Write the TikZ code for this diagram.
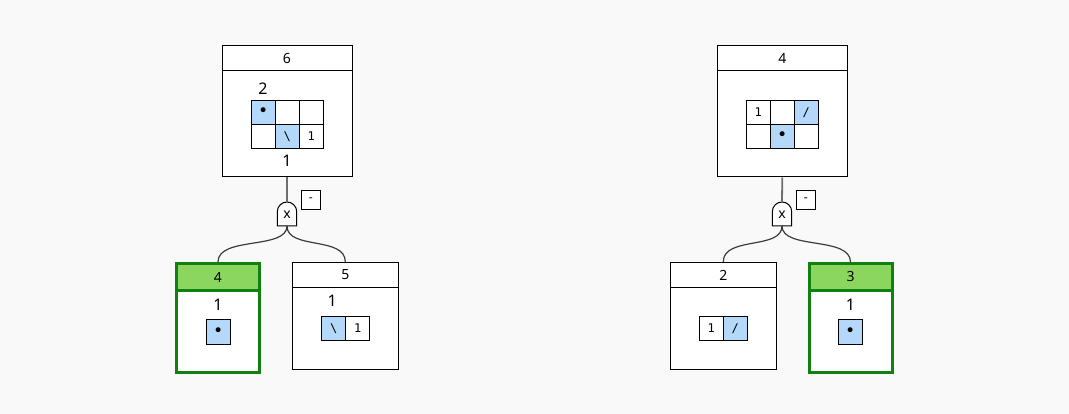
\documentclass[tikz,border=0pt]{standalone}
\usepackage{fontspec}
\setmainfont{Noto Sans}
\newfontfamily\cellfont{DejaVu Sans Mono}
\definecolor{bg}{RGB}{249,249,249}
\definecolor{cellblue}{RGB}{180,216,250}
\definecolor{hdrgreen}{RGB}{139,214,94}
\definecolor{bordgreen}{RGB}{16,128,16}
\definecolor{wire}{RGB}{60,60,60}
\definecolor{stem}{RGB}{110,110,110}
\newcommand{\dotglyph}{{\fontsize{17}{17}\selectfont •}}
\tikzset{
  x=1pt, y=-1pt,
  treebox/.style={draw=black, line width=1pt, fill=white, inner sep=0pt},
  goalbox/.style={draw=bordgreen, line width=3pt, fill=white, inner sep=0pt},
  hdr/.style={font=\fontsize{14}{16}\selectfont, inner sep=0pt},
  big/.style={font=\fontsize{16}{18}\selectfont, inner sep=0pt},
  cell/.style={draw=black, line width=1pt, minimum width=24pt, minimum height=24pt, inner sep=0pt, font=\cellfont\fontsize{12}{13}\selectfont},
  bcell/.style={cell, fill=cellblue},
  gatelbl/.style={font=\fontsize{14}{16}\selectfont, inner sep=0pt},
  tagbox/.style={draw=black, line width=1pt, fill=white, minimum width=19pt, minimum height=18.6pt, inner sep=0pt, font=\fontsize{12}{14}\selectfont},
  wireline/.style={draw=wire, line width=1.2pt},
  stemline/.style={draw=stem, line width=1.8pt},
}
\begin{document}
\begin{tikzpicture}
\fill[bg] (0,0) rectangle (1069,414);
\useasboundingbox (0,0) rectangle (1069,414);

% ================= LEFT TREE =================
\node[treebox, minimum width=130pt, minimum height=131pt] (L) at (287,111.5) {};
\draw[line width=1pt] (222,71) -- (352,71);
\node[hdr] (Lh) at (287,58.5) {6};
\node[big] (Lt) at (263,88.7) {2};
\node[big] (Lb) at (287,160.7) {1};
\node[bcell] (L00) at (263.3,112.3) {\dotglyph};
\node[cell]  (L01) at (287.3,112.3) {};
\node[cell]  (L02) at (311.3,112.3) {};
\node[cell]  (L10) at (263.3,136.3) {};
\node[bcell] (L11) at (287.3,136.3) {\textbackslash};
\node[cell]  (L12) at (311.3,136.3) {1};

% gate
\path[draw=black, line width=1pt, fill=white] (277.3,226) -- (277.3,211.7) arc[start angle=180, end angle=360, radius=9.7] -- (296.7,226) -- cycle;
\coordinate (LGt) at (287,202);
\coordinate (LGb) at (287,226);
\node[gatelbl] (LG) at (287,215) {x};
\node[tagbox] (LT) at (310.8,200) {-};
\draw[stemline] (L.south) -- (LGt);

% left child (goal)
\node[goalbox, minimum width=83pt, minimum height=109pt] (LA) at (218,318) {};
\fill[hdrgreen] (178,265) rectangle (258,289);
\draw[bordgreen, line width=3pt] (176.5,290.5) -- (259.5,290.5);
\node[hdr] (LAh) at (218,277) {4};
\node[big] (LAt) at (218,305) {1};
\node[bcell] (LA0) at (218.3,332) {\dotglyph};

% right child
\node[treebox, minimum width=106pt, minimum height=107pt] (LB) at (345.3,315.8) {};
\draw[line width=1pt] (292.3,287.3) -- (398.3,287.3);
\node[hdr] (LBh) at (345.3,275) {5};
\node[big] (LBt) at (332.3,300.3) {1};
\node[bcell] (LB0) at (333.7,328.2) {\textbackslash};
\node[cell]  (LB1) at (357.7,328.2) {1};

\draw[wireline] (LGb) .. controls (287,250) and (218,236) .. (LA.north);
\draw[wireline] (LGb) .. controls (287,250) and (345.3,236) .. (LB.north);

% ================= RIGHT TREE =================
\node[treebox, minimum width=130pt, minimum height=131pt] (R) at (782.3,111.5) {};
\draw[line width=1pt] (717.3,71) -- (847.3,71);
\node[hdr] (Rh) at (782.3,58.5) {4};
\node[cell]  (R00) at (758.3,112.3) {1};
\node[cell]  (R01) at (782.3,112.3) {};
\node[bcell] (R02) at (806.3,112.3) {/};
\node[cell]  (R10) at (758.3,136.3) {};
\node[bcell] (R11) at (782.3,136.3) {\dotglyph};
\node[cell]  (R12) at (806.3,136.3) {};

% gate
\path[draw=black, line width=1pt, fill=white] (772.3,226) -- (772.3,211.7) arc[start angle=180, end angle=360, radius=9.7] -- (791.7,226) -- cycle;
\coordinate (RGt) at (782,202);
\coordinate (RGb) at (782,226);
\node[gatelbl] (RG) at (782,215) {x};
\node[tagbox] (RT) at (805.8,200) {-};
\draw[stemline] (R.south) -- (RGt);

% left child
\node[treebox, minimum width=106pt, minimum height=107pt] (RA) at (723.3,315.8) {};
\draw[line width=1pt] (670.3,287.3) -- (776.3,287.3);
\node[hdr] (RAh) at (723.3,275) {2};
\node[cell]  (RA0) at (711.3,328.2) {1};
\node[bcell] (RA1) at (735.3,328.2) {/};

% right child (goal)
\node[goalbox, minimum width=83pt, minimum height=109pt] (RB) at (850.5,318) {};
\fill[hdrgreen] (810.5,265) rectangle (890.5,289);
\draw[bordgreen, line width=3pt] (809,290.5) -- (892,290.5);
\node[hdr] (RBh) at (850.5,277) {3};
\node[big] (RBt) at (850.5,305) {1};
\node[bcell] (RB0) at (850.3,332) {\dotglyph};

\draw[wireline] (RGb) .. controls (782,250) and (723.3,236) .. (RA.north);
\draw[wireline] (RGb) .. controls (782,250) and (850.5,236) .. (RB.north);
\end{tikzpicture}
\end{document}
